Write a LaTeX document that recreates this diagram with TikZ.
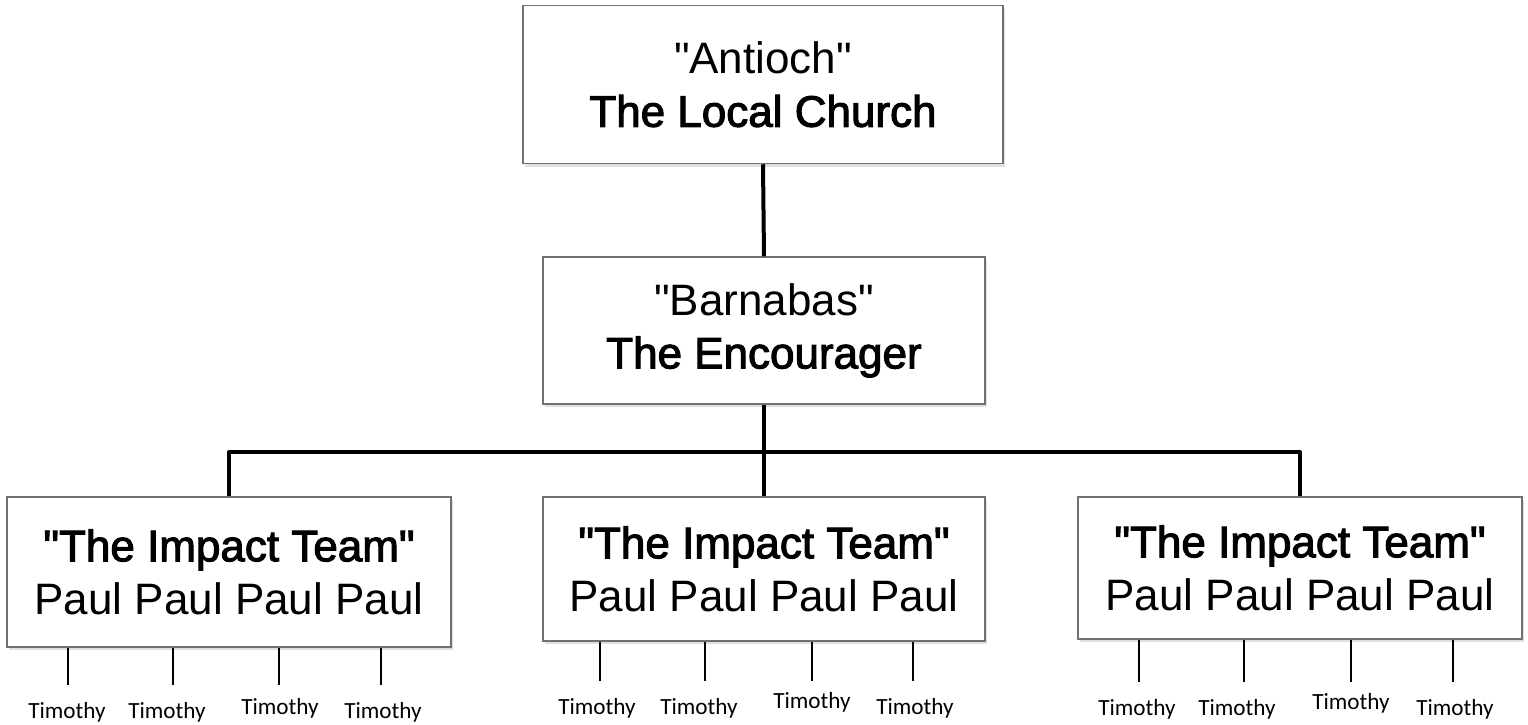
\documentclass[tikz,border=0pt]{standalone}
\usepackage{fontspec}
\setmainfont{Liberation Sans}
\newfontfamily\regfont[Ligatures=ResetAll]{Liberation Sans}
\newfontfamily\medfont[Ligatures=ResetAll,FakeBold=2.4]{Liberation Sans}
\newfontfamily\timfont{Carlito}
\usetikzlibrary{shadows}
\definecolor{boxgray}{HTML}{707070}
\tikzset{
	box/.style={draw=boxgray, line width=0.75pt, fill=white, align=center, inner sep=0pt,
		font=\regfont\fontsize{22}{26.5}\selectfont,
		drop shadow={shadow xshift=1.2pt, shadow yshift=-1.5pt, fill=black!30, opacity=0.4}},
	link/.style={line width=2pt, line join=round},
	tick/.style={line width=0.6pt},
	tim/.style={font=\timfont\fontsize{11.6}{14}\selectfont, anchor=north, inner sep=0pt}
}
\begin{document}
\begin{tikzpicture}[x=0.5pt,y=-0.5pt]
	\useasboundingbox (0,0) rectangle (1528,724);
	
	\node[box, minimum width=240pt, minimum height=79pt] (church) at (763,84.5) {"Antioch"\\{\medfont The Local Church}};
	\node[box, minimum width=221pt, minimum height=73.5pt] (barnabas) at (764,330.5) {"Barnabas"\\{\medfont The Encourager}};
	
	\node[box, minimum width=222pt, minimum height=75pt] (left) at (229,572) {{\medfont "The Impact Team"}\\Paul Paul Paul Paul};
	\node[box, minimum width=221pt, minimum height=72pt] (middle) at (764,569) {{\medfont "The Impact Team"}\\Paul Paul Paul Paul};
	\node[box, minimum width=222pt, minimum height=71pt] (right) at (1300,568) {{\medfont "The Impact Team"}\\Paul Paul Paul Paul};
	
	\coordinate (bar) at (764,452);
	\draw[link] (church.south) -- (barnabas.north);
	\draw[link] (barnabas) -- (middle);
	\draw[link] (left.north) -- (left.north |- bar) -- (right.north |- bar) -- (right.north);
	
	\node[tim] (lt1) at (67,702) {Timothy};
	\node[tim] (lt2) at (167,702) {Timothy};
	\node[tim] (lt3) at (280,698) {Timothy};
	\node[tim] (lt4) at (383,702) {Timothy};
	\node[tim] (mt1) at (597,698) {Timothy};
	\node[tim] (mt2) at (699,698) {Timothy};
	\node[tim] (mt3) at (812,692) {Timothy};
	\node[tim] (mt4) at (915,698) {Timothy};
	\node[tim] (rt1) at (1137,699) {Timothy};
	\node[tim] (rt2) at (1237,699) {Timothy};
	\node[tim] (rt3) at (1351,693) {Timothy};
	\node[tim] (rt4) at (1455,699) {Timothy};
	
	\coordinate (lk1) at (68,685);
	\coordinate (lk2) at (173,685);
	\coordinate (lk3) at (279,685);
	\coordinate (lk4) at (381,685);
	\coordinate (mk1) at (600,681);
	\coordinate (mk2) at (705,681);
	\coordinate (mk3) at (812,681);
	\coordinate (mk4) at (913,681);
	\coordinate (rk1) at (1139,682);
	\coordinate (rk2) at (1244,682);
	\coordinate (rk3) at (1351,682);
	\coordinate (rk4) at (1453,682);
	
	\draw[tick] (lk1 |- left.south) -- (lk1);
	\draw[tick] (lk2 |- left.south) -- (lk2);
	\draw[tick] (lk3 |- left.south) -- (lk3);
	\draw[tick] (lk4 |- left.south) -- (lk4);
	\draw[tick] (mk1 |- middle.south) -- (mk1);
	\draw[tick] (mk2 |- middle.south) -- (mk2);
	\draw[tick] (mk3 |- middle.south) -- (mk3);
	\draw[tick] (mk4 |- middle.south) -- (mk4);
	\draw[tick] (rk1 |- right.south) -- (rk1);
	\draw[tick] (rk2 |- right.south) -- (rk2);
	\draw[tick] (rk3 |- right.south) -- (rk3);
	\draw[tick] (rk4 |- right.south) -- (rk4);
\end{tikzpicture}
\end{document}
